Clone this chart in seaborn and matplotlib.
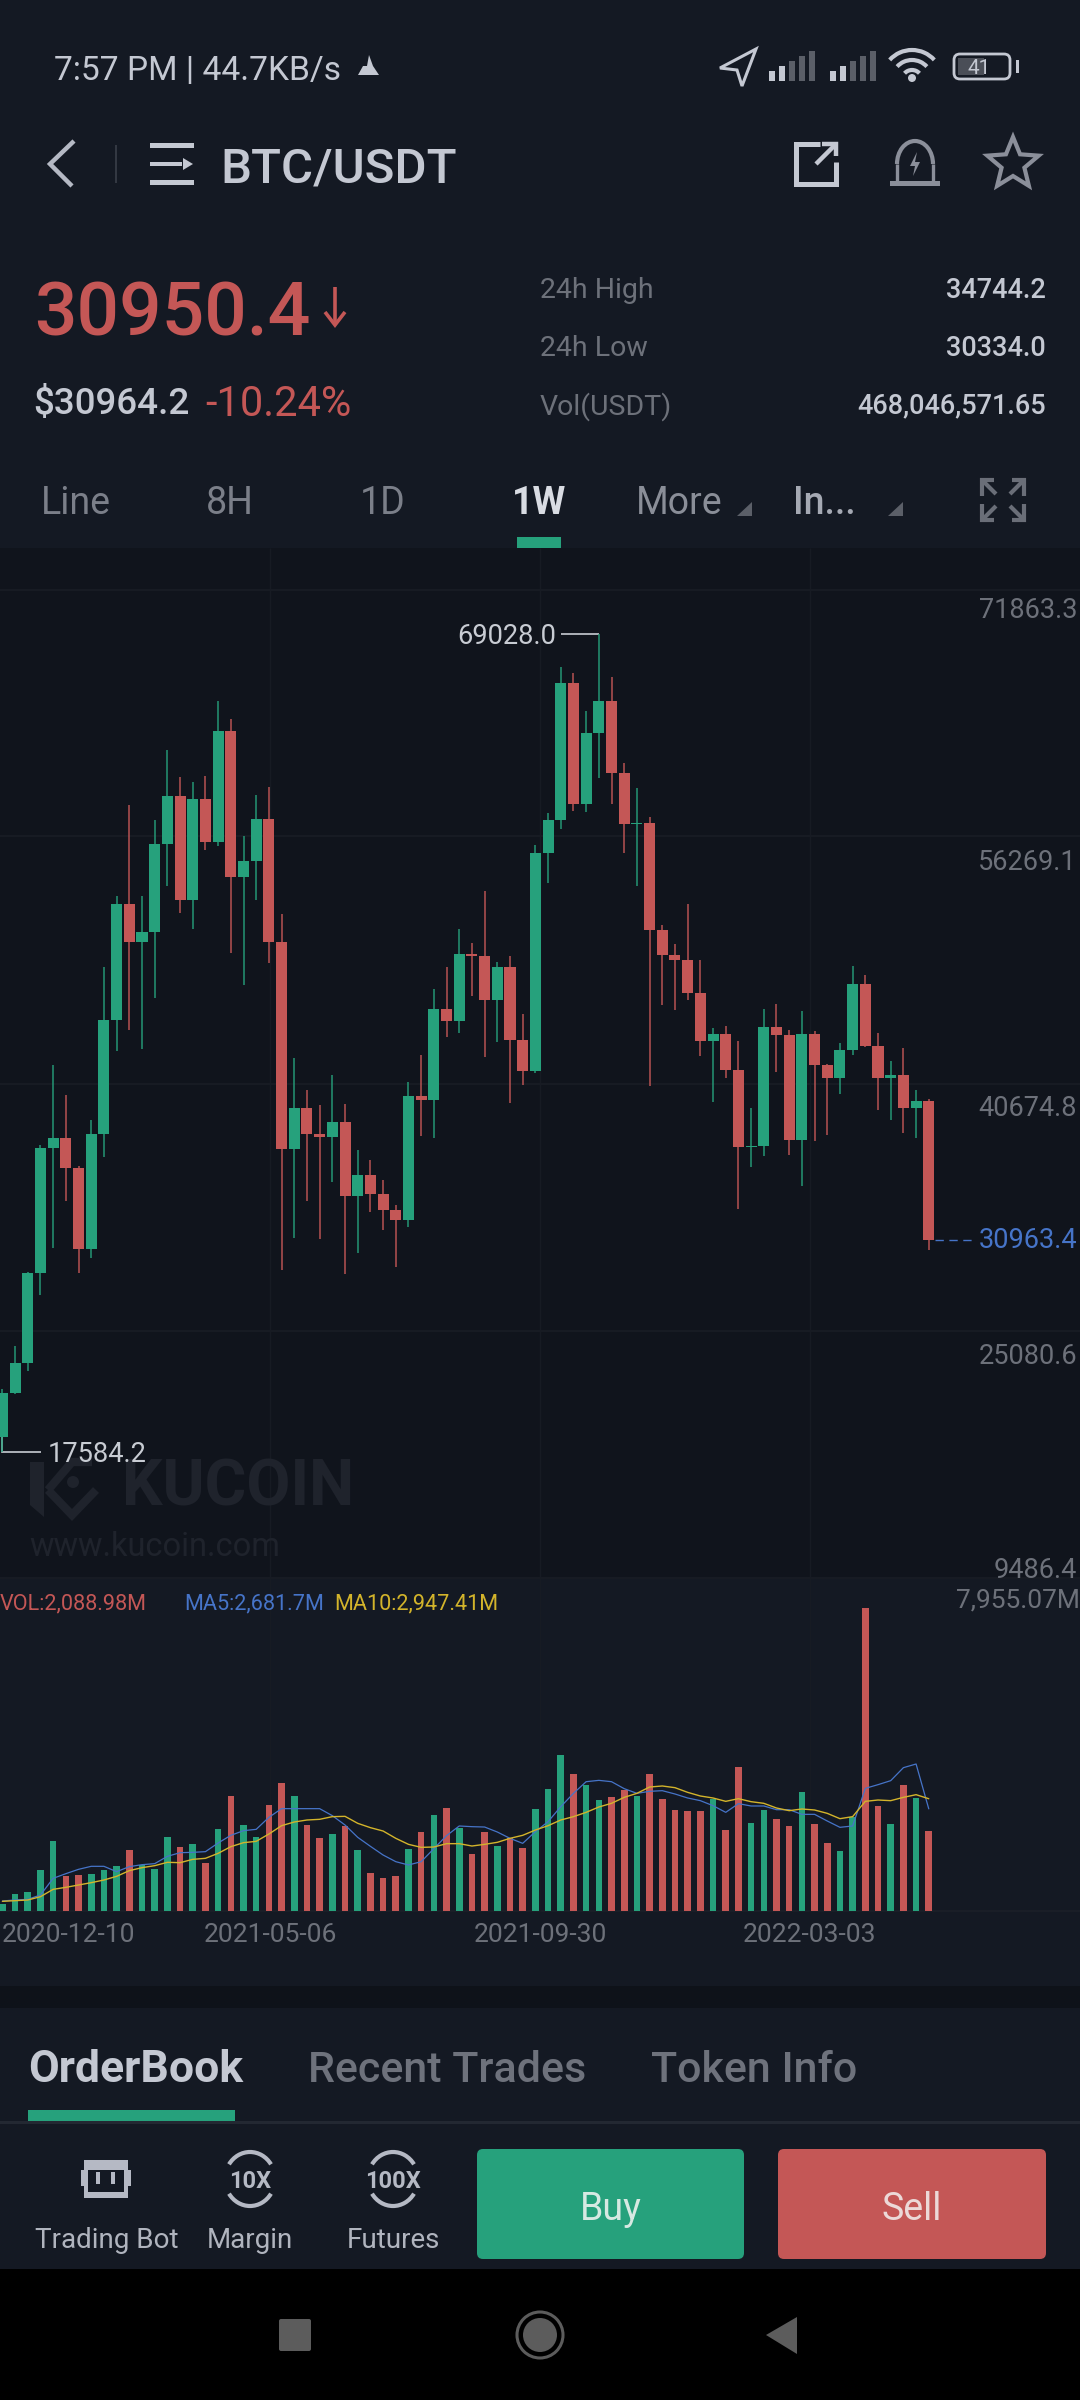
import numpy as np
import pandas as pd
import seaborn as sns
import matplotlib
matplotlib.use("Agg")
import matplotlib.pyplot as plt
from matplotlib.patches import Rectangle, Polygon, Circle, Arc, FancyBboxPatch

# weekly candles BTC/USDT
opens = [18527, 21315, 23215, 28865, 36730, 37340, 35472, 30338, 37592, 44765,
         52089, 49673, 50321, 55826, 58834, 52290, 58689, 55940, 62930, 53775,
         54788, 57399, 49648, 36642, 39228, 37567, 37372, 38328, 33666, 35012,
         33830, 32823, 32150, 39958, 39732, 45463, 44702, 48943, 48773, 46049,
         48100, 43526, 41531, 55267, 57318, 65969, 58381, 62848, 64843, 60294,
         57116, 57173, 50453, 48855, 48559, 46464, 43444, 43884, 41638, 36793,
         36856, 44344, 43840, 37234, 43865, 41934, 41097, 42859, 47030, 43129,
         41135, 41305, 39209, 39669]
closes = [21315, 23202, 28865, 36730, 37359, 35472, 30338, 37592, 44765, 52089,
          49673, 50321, 55826, 58834, 52290, 58689, 55940, 62930, 53775, 54788,
          57399, 49648, 36642, 39228, 37567, 37372, 38328, 33666, 35012, 33830,
          32823, 32150, 39958, 39732, 45463, 44702, 48918, 48805, 46049, 48100,
          43526, 41531, 55267, 57318, 65969, 58381, 62848, 64843, 60294, 57116,
          57173, 50453, 48855, 48559, 46464, 43444, 43884, 41638, 36793, 36856,
          44344, 43840, 37234, 43865, 41934, 41097, 42859, 47030, 43129, 41135,
          41305, 39209, 39669, 30950.4]
highs = [21548, 24253, 28928, 36881, 41915, 40065, 35579, 38473, 48100, 52567,
         58268, 52567, 57318, 61753, 60067, 59759, 60124, 64818, 63717, 56361,
         58922, 59451, 51447, 42349, 40348, 39423, 41305, 39505, 36560, 35937,
         34673, 33131, 40858, 42538, 46697, 48100, 50459, 49616, 52850, 48383,
         48773, 45124, 55745, 57796, 66951, 66611, 64226, 69028, 66334, 60910,
         59337, 57538, 50742, 49528, 52045, 48521, 44281, 44369, 43463, 39247,
         45457, 45791, 44117, 45312, 44073, 41997, 43299, 48163, 47578, 43928,
         42166, 42984, 40342, 39794]
lows = [17584.2, 21233, 22699, 27481, 30400, 33377, 28827, 29809, 36126, 42833,
        44136, 42959, 46162, 53215, 51472, 50459, 55436, 55688, 48974, 46948,
        52341, 48326, 29004, 31074, 33383, 30998, 34591, 28777, 30124, 32710,
        31583, 29255, 31728, 37485, 37315, 43721, 43947, 46250, 42456, 43356,
        39562, 40656, 41418, 53354, 56783, 57934, 57821, 60011, 58324, 55292,
        53215, 40587, 45690, 45413, 46042, 42481, 39624, 41135, 32892, 35516,
        36227, 41512, 36290, 34302, 37133, 37548, 40128, 42563, 43066, 39083,
        38492, 37655, 37359, 30293]

# volume in millions
volumes = [184, 438, 508, 1068, 1846, 910, 945, 963, 1076, 1173,
           1601, 1208, 1103, 1943, 1689, 1750, 1260, 2144, 3028, 2249,
           1934, 2792, 3360, 3010, 2249, 1925, 2021, 2240, 1601, 998,
           866, 919, 1628, 2083, 2520, 2704, 2188, 1496, 2083, 1698,
           1925, 1654, 2669, 3203, 4095, 3605, 3308, 2905, 2993, 3185,
           3019, 3605, 2949, 2643, 2625, 2617, 2932, 2118, 3789, 2319,
           2643, 2407, 2232, 3115, 2275, 1776, 1575, 2477, 7955.07, 2765,
           2293, 3299, 2967, 2088.98]
ma5 = [263, 289, 306, 420, 858, 980, 1094, 1173, 1173, 1033,
       1164, 1216, 1243, 1435, 1531, 1540, 1558, 1785, 1987, 2109,
       2144, 2459, 2687, 2687, 2687, 2687, 2503, 2258, 1934, 1698,
       1470, 1295, 1208, 1295, 1636, 1978, 2232, 2214, 2205, 2074,
       1908, 1776, 2083, 2345, 2739, 3089, 3395, 3430, 3395, 3212,
       3089, 3142, 3159, 3072, 2967, 2897, 2765, 2590, 2818, 2757,
       2757, 2660, 2660, 2538, 2538, 2363, 2197, 2232, 3220, 3317,
       3422, 3763, 3859, 2681.7]
ma10 = [254, 271, 289, 376, 569, 621, 683, 744, 814, 910,
        1059, 1138, 1190, 1278, 1269, 1356, 1383, 1514, 1689, 1794,
        1829, 2021, 2240, 2337, 2389, 2407, 2477, 2485, 2302, 2188,
        2100, 1908, 1750, 1671, 1680, 1768, 1768, 1706, 1750, 1803,
        1908, 1987, 2126, 2240, 2389, 2477, 2590, 2730, 2827, 2984,
        3089, 3255, 3282, 3238, 3115, 3019, 2967, 2879, 2949, 2870,
        2827, 2704, 2634, 2678, 2652, 2564, 2424, 2477, 2879, 2914,
        2897, 2984, 3054, 2947.41]

price_ticks = ["71863.3", "56269.1", "40674.8", "25080.6", "9486.4"]
date_ticks = ["2020-12-10", "2021-05-06", "2021-09-30", "2022-03-03"]

GREEN = "#26a17c"
RED = "#c45756"
BLUE = "#4674c8"
YELLOW = "#d3b42b"
PANEL = "#141923"
CHART = "#10141c"
LIGHT = "#c4c8d2"
DIM = "#6d717a"
GRID = "#171b23"

sns.set_theme(style="dark", rc={"axes.facecolor": "none", "figure.facecolor": PANEL})
plt.rcParams["font.family"] = ["Roboto", "DejaVu Sans"]

W, H = 1080, 2400
fig = plt.figure(figsize=(W / 100, H / 100), dpi=100)

# background layer in pixels, for the app chrome around the chart
bg = fig.add_axes([0, 0, 1, 1], zorder=0)
bg.set_xlim(0, W)
bg.set_ylim(H, 0)
bg.axis("off")


def txt(x, y, s, size, color=LIGHT, ha="left", weight="normal", **kw):
    bg.text(x, y, s, fontsize=size, color=color, ha=ha, va="center_baseline", weight=weight, **kw)


def box(x0, y0, x1, y1, color):
    bg.add_patch(Rectangle((x0, y0), x1 - x0, y1 - y0, fc=color, ec="none"))


def stroke(xs, ys, color=LIGHT, lw=3.0):
    bg.plot(xs, ys, color=color, lw=lw, solid_capstyle="butt", solid_joinstyle="miter")


box(0, 0, W, H, PANEL)
box(0, 548, W, 1578, CHART)
box(0, 1986, W, 2008, "#0e1219")
box(0, 2269, W, H, "#000000")

# grid
bg.hlines([589.7, 836.3, 1084, 1331, 1578], 0, W, color=GRID, lw=1.6)
bg.hlines(1911, 0, W, color="#1c2029", lw=1.2)
bg.vlines([270, 540, 810], 548, 1911, color=GRID, lw=1.0)

# status bar
txt(54, 68, "7:57 PM | 44.7KB/s", 24.2)
bg.add_patch(Polygon([[358, 75], [363, 66], [367, 66], [369, 55], [373, 66], [379, 75]], fc=LIGHT, ec="none"))
bg.add_patch(Polygon([[756, 49], [720, 68], [737, 70], [742, 86]], fc="none", ec=LIGHT, lw=2.2))
for x0 in (769, 830):
    for k in range(5):
        c = LIGHT if k < 2 else "#5b5f68"
        box(x0 + k * 10, 81 - 10 - k * 5, x0 + k * 10 + 6, 81, c)
for r in (10, 20, 30):
    bg.add_patch(Arc((912, 80), 2 * r, 2 * r, theta1=222, theta2=318, color=LIGHT, lw=3))
bg.add_patch(Circle((912, 78), 4, fc=LIGHT, ec="none"))
bg.add_patch(FancyBboxPatch((954, 54), 56, 25, boxstyle="round,pad=0,rounding_size=6", fc="none", ec=LIGHT, lw=2))
box(958, 58, 984, 75, "#4a4e57")
box(1016, 60, 1019, 73, LIGHT)
txt(979, 66, "41", 15, ha="center")

# title row
stroke([74, 50, 72], [141, 164, 186], color="#b5b9c4", lw=3.2)
stroke([116, 116], [145, 183], color="#3a3f49", lw=1.2)
box(150, 143, 194, 148, LIGHT)
box(150, 162, 182, 166, LIGHT)
box(150, 180, 194, 185, LIGHT)
bg.add_patch(Polygon([[183, 158], [193, 164], [183, 170]], fc=LIGHT, ec="none"))
txt(220, 164, "BTC/USDT", 35.5, weight="medium")
stroke([820, 796, 796, 836, 836], [144, 144, 184, 184, 162], lw=3.6)
stroke([816, 836], [164, 144], lw=3.2)
stroke([822, 836, 836], [144, 144, 156], lw=3.2)
bg.add_patch(Arc((915, 164), 36, 46, theta1=180, theta2=360, color="#8b8f9a", lw=3))
stroke([897, 897], [164, 182], color="#8b8f9a", lw=2.4)
stroke([933, 933], [164, 182], color="#8b8f9a", lw=2.4)
box(890, 181, 940, 186, "#8b8f9a")
bg.add_patch(Polygon([[917, 152], [910, 166], [915, 166], [913, 176], [920, 162], [915, 162]], fc="#8b8f9a", ec="none"))
ang = np.deg2rad(np.arange(-90, 270, 36))
rad = np.where(np.arange(10) % 2 == 0, 27, 12)
bg.add_patch(Polygon(np.c_[1013 + rad * np.cos(ang), 164 + rad * np.sin(ang)], fc="none", ec="#8b8f9a", lw=3))

# price block
txt(34, 308, "30950.4", 54, color=RED, weight="medium")
stroke([335, 335], [287, 325], color=RED, lw=2.6)
stroke([325, 335, 345], [312, 325, 312], color=RED, lw=2.6)
txt(33, 400, "$30964.2", 26.5, weight="medium")
txt(205, 400, "-10.24%", 30, color=RED)
for y, lab, val in zip((287, 345, 403), ("24h High", "24h Low", "Vol(USDT)"),
                       ("34744.2", "30334.0", "468,046,571.65")):
    txt(540, y, lab, 20.5, color=DIM)
    txt(1046, y, val, 19.5, ha="right", weight="medium")

# interval tabs
txt(41, 500, "Line", 27, color="#7b7f89")
txt(230, 500, "8H", 27, color="#7b7f89", ha="center")
txt(383, 500, "1D", 27, color="#7b7f89", ha="center")
txt(539, 500, "1W", 27, color="#d9dce3", ha="center", weight="bold")
txt(636, 500, "More", 27, color="#8a8e98")
txt(793, 500, "In...", 27, color="#a5a9b3", weight="medium")
for x0 in (737, 888):
    bg.add_patch(Polygon([[x0, 516], [x0 + 15, 516], [x0 + 15, 502]], fc="#5b5f68", ec="none"))
for cx, cy, dx, dy in ((990, 488, 1, 1), (1016, 488, -1, 1), (990, 512, 1, -1), (1016, 512, -1, -1)):
    stroke([cx - 8 * dx, cx - 8 * dx, cx + 4 * dx], [cy + 8 * dy, cy - 8 * dy, cy - 8 * dy], color="#6a6e78", lw=3)
    stroke([cx - 8 * dx, cx + 6 * dx], [cy - 8 * dy, cy + 6 * dy], color="#6a6e78", lw=3)
box(517, 537, 561, 548, GREEN)

# watermark
bg.add_patch(Polygon([[30, 1462], [44, 1462], [44, 1517], [30, 1505]], fc="#1f232c", ec="none"))
stroke([48, 72, 92], [1490, 1462, 1462], color="#1f232c", lw=6)
stroke([48, 72, 96], [1490, 1515, 1490], color="#1f232c", lw=6)
bg.add_patch(Circle((73, 1482), 6, fc="#1f232c", ec="none"))
txt(122, 1482, "KUCOIN", 46, color="#1f232c", weight="bold")
txt(29, 1543, "www.kucoin.com", 23.5, color="#1f232c")

# candles
weeks = np.arange(len(opens))
opens_a, closes_a = np.array(opens), np.array(closes)
up = closes_a >= opens_a
colors = np.where(up, GREEN, RED)
x_lim = (-2.4 / 12.69, (W - 2.4) / 12.69)

ax = fig.add_axes([0, 1 - 1580.7 / H, 1, (1580.7 - 589.3) / H], zorder=2)
ax.set_xlim(*x_lim)
ax.set_ylim(9486.4, 71863.3)
ax.axis("off")
ax.vlines(weeks, lows, highs, colors=colors, lw=1.2, alpha=0.85, zorder=2)
ax.bar(weeks, np.abs(closes_a - opens_a), bottom=np.minimum(opens_a, closes_a),
       width=0.87, color=colors, linewidth=0, zorder=3)
ax.hlines(closes[-1], weeks[-1] + 0.5, weeks[-1] + 3.7, colors=BLUE, lw=1.0, linestyles=(0, (6, 4)))

# high / low markers
stroke([561, 599], [634.4, 634.4], color="#c8ccd3", lw=1.2)
stroke([2.4, 2.4, 41], [1437, 1452, 1452], color="#c8ccd3", lw=1.2)
txt(457, 634, "69028.0", 19.6, color="#c8ccd3")
txt(48, 1452, "17584.2", 19.6, color="#c8ccd3")

# price scale labels
for y, lab in zip((607, 859, 1105, 1353, 1567), price_ticks):
    txt(1077, y, lab, 19.5, color=DIM, ha="right")
txt(1077, 1238, "30963.4", 19.5, color=BLUE, ha="right")

# volume panel
vol_df = pd.DataFrame({"week": weeks, "vol": volumes, "ma5": ma5, "ma10": ma10,
                       "dir": np.where(up, "up", "down")})
ax_vol = fig.add_axes([0, 1 - 1911 / H, 1, (1911 - 1608) / H], zorder=2)
sns.barplot(data=vol_df, x="week", y="vol", hue="dir", palette={"up": GREEN, "down": RED},
            dodge=False, native_scale=True, width=0.52, saturation=1, linewidth=0,
            legend=False, ax=ax_vol)
sns.lineplot(data=vol_df, x="week", y="ma5", color=BLUE, lw=0.9, ax=ax_vol)
sns.lineplot(data=vol_df, x="week", y="ma10", color=YELLOW, lw=1.0, ax=ax_vol)
ax_vol.set_xlim(*x_lim)
ax_vol.set_ylim(0, 7955.07)
ax_vol.axis("off")

txt(1080, 1598, "7,955.07M", 19, color=DIM, ha="right")
txt(0, 1601, "VOL:2,088.98M", 15.6, color=RED)
txt(184, 1601, "MA5:2,681.7M", 15.6, color=BLUE)
txt(334, 1601, "MA10:2,947.41M", 15.6, color=YELLOW)
txt(2, 1933, date_ticks[0], 19, color=DIM)
for x, lab in zip((270, 540, 810), date_ticks[1:]):
    txt(x, 1933, lab, 19, color=DIM, ha="center")

# lower tabs and buttons
txt(28, 2066, "OrderBook", 32, color=LIGHT, weight="bold")
txt(308, 2066, "Recent Trades", 31, color="#6e727c", weight="medium")
txt(651, 2066, "Token Info", 31, color="#6e727c", weight="medium")
box(28, 2110, 235, 2121, GREEN)
box(0, 2121, W, 2124, "#232832")

bg.add_patch(FancyBboxPatch((477, 2149), 267, 110, boxstyle="round,pad=0,rounding_size=6", fc=GREEN, ec="none"))
bg.add_patch(FancyBboxPatch((778, 2149), 268, 110, boxstyle="round,pad=0,rounding_size=6", fc=RED, ec="none"))
txt(611, 2205, "Buy", 27, color="#d6e9e2", ha="center")
txt(912, 2205, "Sell", 27, color="#ecd9d8", ha="center")

box(84, 2160, 128, 2198, "#b5b9c4")
box(81, 2170, 84, 2186, "#b5b9c4")
box(128, 2170, 131, 2186, "#b5b9c4")
box(88, 2170, 124, 2192, PANEL)
box(96, 2172, 100, 2184, "#b5b9c4")
box(111, 2172, 115, 2184, "#b5b9c4")
for cx, lab in ((250, "10X"), (393, "100X")):
    bg.add_patch(Arc((cx, 2179), 50, 54, theta1=215, theta2=325, color="#b5b9c4", lw=3))
    bg.add_patch(Arc((cx, 2179), 50, 54, theta1=35, theta2=145, color="#b5b9c4", lw=3))
    txt(cx, 2179, lab, 17, color="#b5b9c4", ha="center", weight="bold")
for cx, lab in ((107, "Trading Bot"), (250, "Margin"), (393, "Futures")):
    txt(cx, 2238, lab, 20, color="#b0b4be", ha="center")

# android nav bar
bg.add_patch(FancyBboxPatch((279, 2319), 32, 32, boxstyle="round,pad=0,rounding_size=2", fc="#5c5c5c", ec="none"))
bg.add_patch(Circle((540, 2335), 17, fc="#5c5c5c", ec="none"))
bg.add_patch(Circle((540, 2335), 23, fc="none", ec="#5c5c5c", lw=2.2))
bg.add_patch(Polygon([[766, 2335], [797, 2317], [797, 2354]], fc="#5c5c5c", ec="none"))

fig.savefig("out.png", dpi=100, facecolor=PANEL)
